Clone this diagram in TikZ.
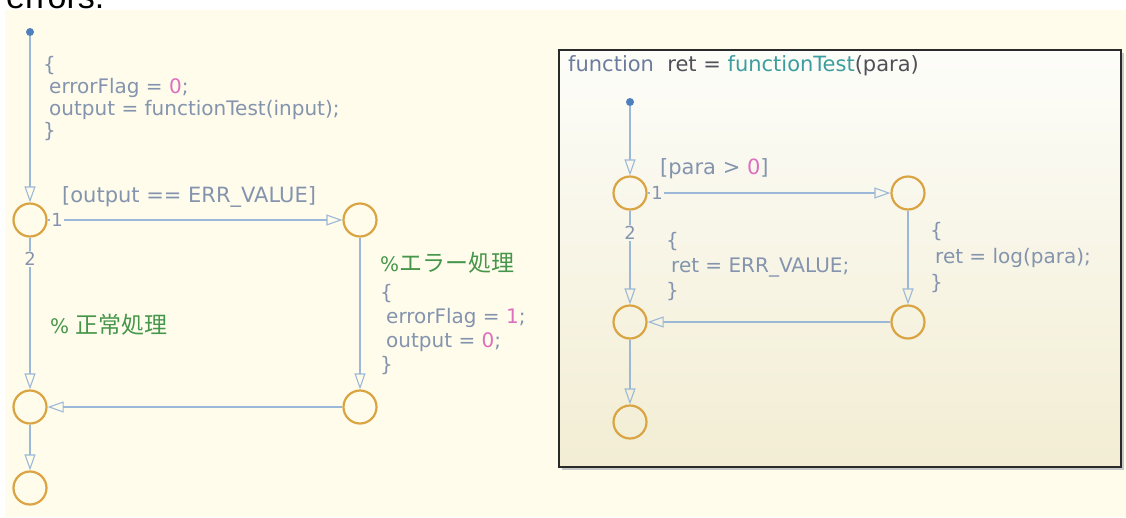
\documentclass[tikz,border=0pt]{standalone}
\usepackage{fontspec}
\setmainfont{DejaVu Sans}
\newfontfamily\jpfont{Noto Sans CJK JP}
\newfontfamily\outerfont{Liberation Sans}
\usetikzlibrary{arrows.meta}
\newcommand{\textjp}[1]{{\jpfont\fontsize{23}{26}\selectfont #1}}

\definecolor{chartbg}{HTML}{FFFCEC}
\definecolor{codegray}{HTML}{8494AE}
\definecolor{keygray}{HTML}{6C7C9C}
\definecolor{titlegray}{HTML}{505058}
\definecolor{functeal}{HTML}{3C9E9E}
\definecolor{numpink}{HTML}{DC6FBE}
\definecolor{cmtgreen}{HTML}{45964A}
\definecolor{transblue}{HTML}{9CB8D8}
\definecolor{junctorange}{HTML}{D9A441}
\definecolor{dotblue}{HTML}{4F80BE}
\definecolor{boxtop}{HTML}{FDFDF9}
\definecolor{boxbottom}{HTML}{F2EDD3}
\definecolor{boxedge}{HTML}{2A2A2A}

\begin{document}
\begin{tikzpicture}[x=1pt, y=-1pt,
    junction/.style={circle, draw=junctorange, line width=2.2pt, minimum size=33pt, inner sep=0pt},
    startdot/.style={circle, fill=dotblue, minimum size=8pt, inner sep=0pt},
    trans/.style={transblue, line width=1.4pt, -{Triangle[open, length=16pt, width=11pt, line width=1.1pt]}},
    code/.style={codegray, font=\fontsize{20}{#1}\selectfont, align=left, anchor=base west, inner sep=0pt},
    code/.default=23,
    cond/.style={codegray, font=\fontsize{21}{24}\selectfont, anchor=west, inner sep=0pt},
    comment/.style={cmtgreen, font=\fontsize{20}{24}\selectfont, anchor=west, inner sep=0pt},
    prio/.style={codegray, font=\fontsize{18}{18}\selectfont, fill=#1, inner sep=1pt},
    prio/.default=chartbg]
    \useasboundingbox (0,0) rectangle (1126,517);

    % page text cut off above the chart
    \node[anchor=base west, inner sep=0pt, font=\outerfont\fontsize{34}{34}\selectfont] (cuttext) at (6,8) {errors.};
    \fill[chartbg] (5,10) rectangle (1126,517);

    % caller chart
    \node[startdot] (dot1) at (30,32) {};
    \node[junction] (j1) at (30,220) {};
    \node[junction] (j2) at (360,220) {};
    \node[junction] (j3) at (360,407) {};
    \node[junction] (j4) at (30,407) {};
    \node[junction] (j5) at (30,488) {};

    \draw[trans] (dot1) -- (j1);
    \draw[trans] (j1) -- node[prio, at start, anchor=west, xshift=2pt] {1} (j2);
    \draw[trans] (j1) -- node[prio, pos=0.14] {2} (j4);
    \draw[trans] (j2) -- (j3);
    \draw[trans] (j3) -- (j4);
    \draw[trans] (j4) -- (j5);

    % base anchor sits on the last line
    \node[code=22] (initact) at (43,137) {\{\\\hspace*{6pt}errorFlag = \textcolor{numpink}{0};\\\hspace*{6pt}output = functionTest(input);\\\}};
    \node[cond] (errcond) at (62,197) {[output == ERR\_VALUE]};
    \node[comment] (okcmt) at (50,325) {\% \textjp{正常処理}};
    \node[comment] (errcmt) at (380,263) {\%\textjp{エラー処理}};
    \node[code=24] (erract) at (380,371) {\{\\\hspace*{6pt}errorFlag = \textcolor{numpink}{1};\\\hspace*{6pt}output = \textcolor{numpink}{0};\\\}};

    % graphical function box
    \fill[black!22] (562,53) rectangle (1124,470);
    \draw[line width=1.6pt, draw=boxedge, top color=boxtop, bottom color=boxbottom] (559,50) rectangle (1121,467);
    \node[anchor=west, inner sep=0pt, font=\fontsize{21}{24}\selectfont] (title) at (568,66)
        {\textcolor{keygray}{function}\ \ \textcolor{titlegray}{ret =} \textcolor{functeal}{functionTest}\textcolor{titlegray}{(para)}};

    \node[startdot] (dot2) at (630,102) {};
    \node[junction] (k1) at (630,193) {};
    \node[junction] (k2) at (908,193) {};
    \node[junction] (k3) at (908,322) {};
    \node[junction] (k4) at (630,322) {};
    \node[junction] (k5) at (630,422) {};

    \draw[trans] (dot2) -- (k1);
    \draw[trans] (k1) -- node[prio={boxtop!65!boxbottom}, at start, anchor=west, xshift=2pt] {1} (k2);
    \draw[trans] (k1) -- node[prio={boxtop!65!boxbottom}, pos=0.24] {2} (k4);
    \draw[trans] (k2) -- (k3);
    \draw[trans] (k3) -- (k4);
    \draw[trans] (k4) -- (k5);

    \node[cond] (paracond) at (660,169) {[para > \textcolor{numpink}{0}]};
    \node[code=25] (erret) at (666,297) {\{\\\hspace*{5pt}ret = ERR\_VALUE;\\\}};
    \node[code=26] (logret) at (930,289) {\{\\\hspace*{5pt}ret = log(para);\\\}};
\end{tikzpicture}
\end{document}
